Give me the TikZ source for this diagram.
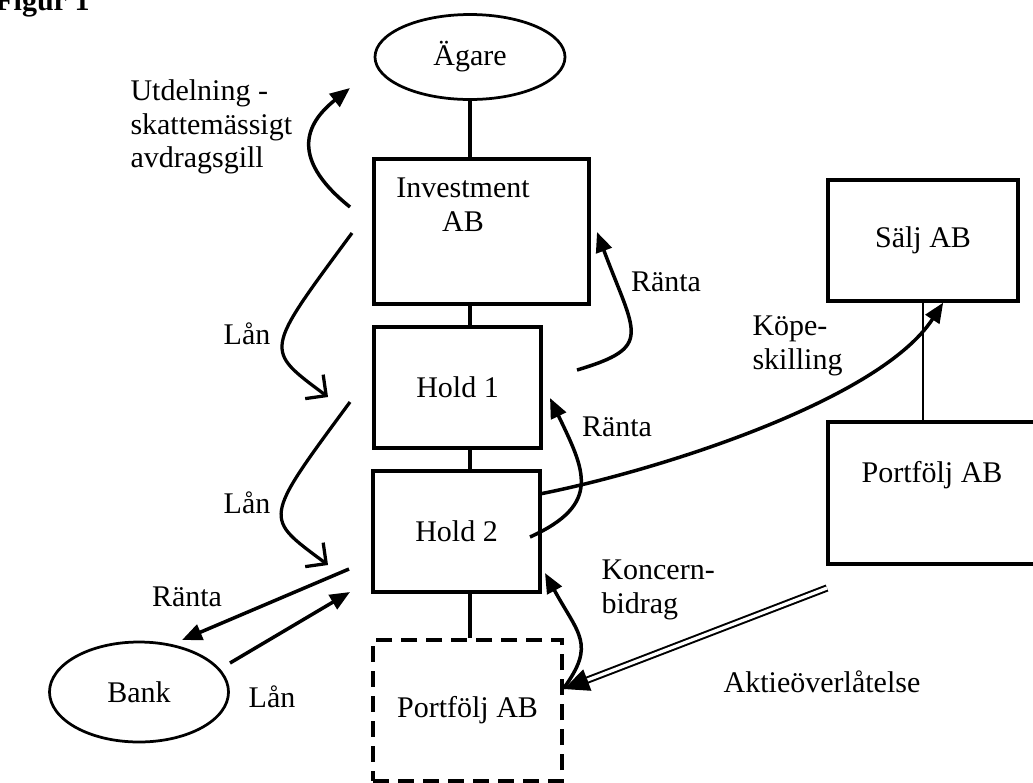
\documentclass[tikz,border=0pt]{standalone}
\usepackage{fontspec}
\setmainfont{Liberation Serif}
\usetikzlibrary{shapes.geometric, arrows.meta, positioning, calc}

\begin{document}
\begin{tikzpicture}[
    x=0.4pt, y=-0.4pt,
    % Stilar
    base/.style = {draw=black, line width=1.3pt, font=\fontsize{12}{13.4}\selectfont, align=center, inner sep=0pt},
    ruta/.style = {base, rectangle, minimum width=66.8pt, minimum height=48.4pt},
    streckad/.style = {ruta, dash pattern=on 6.5pt off 3.5pt},
    bolag/.style = {base, ellipse, line width=1.1pt},
    etikett/.style = {font=\fontsize{12}{13.4}\selectfont, align=left, inner sep=0pt},
    pil/.style = {line width=1.4pt, -{Triangle[length=8pt, width=6.5pt]}},
    lanpil/.style = {line width=1.3pt, -{Straight Barb[length=6pt, width=12pt]}},
    overlat/.style = {double, double distance=1.3pt, line width=0.8pt, shorten >=8pt},
    spets/.style = {line width=0.8pt, -{Triangle[length=10pt, width=9pt]}}
]
\useasboundingbox (0,0) rectangle (1033,782);

% ===============================
% 1. Koncernen
% ===============================
\node (figur) [etikett, font=\fontsize{12}{13.4}\selectfont\bfseries, anchor=base east] at (90,10) {Figur 1};

\node (agare) [bolag, minimum width=76pt, minimum height=34pt] at (470,57) {Ägare};
\node (inv) [ruta, minimum width=86pt, minimum height=58pt,
    label={[etikett, align=center, anchor=north, xshift=-7.4pt, yshift=-8pt]north:Investment\\AB\hspace{5.6pt}}] at (481.5,231.5) {};
\node (hold1) [ruta] at (457.5,387.5) {Hold 1};
\node (hold2) [ruta] at (456.5,531.5) {Hold 2};
\node (port) [streckad, minimum width=75.6pt, minimum height=56.4pt] at (467.5,710.5) {Portfölj AB};

% ===============================
% 2. Säljaren och banken
% ===============================
\node (salj) [ruta, minimum width=76pt] at (923,240.5) {Sälj AB};
\node (portr) [ruta, minimum width=86.8pt, minimum height=56.8pt,
    label={[etikett, xshift=-1.8pt, yshift=7.2pt]center:Portfölj AB}] at (936.5,493) {};
\node (bank) [bolag, minimum width=71.6pt, minimum height=40pt] at (139,692) {Bank};

\draw [line width=1.3pt] (agare.south) -- (agare.south |- inv.north);
\draw [line width=1.3pt] (agare.south |- inv.south) -- (agare.south |- hold1.north);
\draw [line width=1.3pt] (agare.south |- hold1.south) -- (agare.south |- hold2.north);
\draw [line width=1.3pt] (agare.south |- hold2.south) -- (agare.south |- port.north);
\draw [line width=0.9pt] (salj.south) -- (salj.south |- portr.north);

% ===============================
% 3. Fria ändpunkter
% ===============================
\coordinate (utd-a) at (350,207);
\coordinate (utd-b) at (350,88);
\coordinate (lan1-a) at (352,233);
\coordinate (lan1-b) at (328,397);
\coordinate (lan2-a) at (350,402);
\coordinate (lan2-b) at (328,565);
\coordinate (ranta1-a) at (577,370);
\coordinate (ranta1-b) at (597,232);
\coordinate (ranta2-a) at (530,537);
\coordinate (ranta2-b) at (550,398);
\coordinate (koncern-b) at (545,573);
\coordinate (rbank-a) at (349,569);
\coordinate (rbank-b) at (182,640);
\coordinate (lbank-a) at (230,663);
\coordinate (lbank-b) at (350,592);
\coordinate (aktie-a) at (827,588);
\coordinate (aktie-b) at (564,689);

% ===============================
% 4. Flöden
% ===============================
\draw [pil] (utd-a) .. controls (285,155) and (310,120) .. (utd-b);
\draw [lanpil] (lan1-a) .. controls (263.5,353) and (264,349) .. (lan1-b);
\draw [lanpil] (lan2-a) .. controls (261.5,522) and (264,517) .. (lan2-b);
\draw [pil] (ranta1-a) .. controls (654,347) and (635.5,335) .. (ranta1-b);
\draw [pil] (ranta2-a) .. controls (602.8,504) and (584.4,470) .. (ranta2-b);
\draw [pil] (hold2.24) .. controls (660,470) and (880,400) .. (salj.288);
\draw [pil] (port.13) .. controls (596,644) and (578.6,634.6) .. (koncern-b);
\draw [pil] (rbank-a) -- (rbank-b);
\draw [pil] (lbank-a) -- (lbank-b);
\draw [overlat] (aktie-a) -- (aktie-b);
\draw [spets] ($(aktie-b)!10pt!(aktie-a)$) -- (aktie-b);

% Texter vid pilarna
\node (utd) [etikett, anchor=west] at (130,127) {Utdelning -\\skattemässigt\\avdragsgill};
\node (lan1) [etikett] at (247,334) {Lån};
\node (lan2) [etikett] at (247,503) {Lån};
\node (ranta1) [etikett] at (666,282) {Ränta};
\node (ranta2) [etikett] at (617,427) {Ränta};
\node (kop) [etikett, anchor=west] at (752,346) {Köpe-\\skilling};
\node (koncern) [etikett, anchor=west] at (601,590) {Koncern-\\bidrag};
\node (rbank) [etikett] at (187,597) {Ränta};
\node (lbank) [etikett] at (272,697) {Lån};
\node (aktie) [etikett] at (822,682) {Aktieöverlåtelse};

\end{tikzpicture}
\end{document}
